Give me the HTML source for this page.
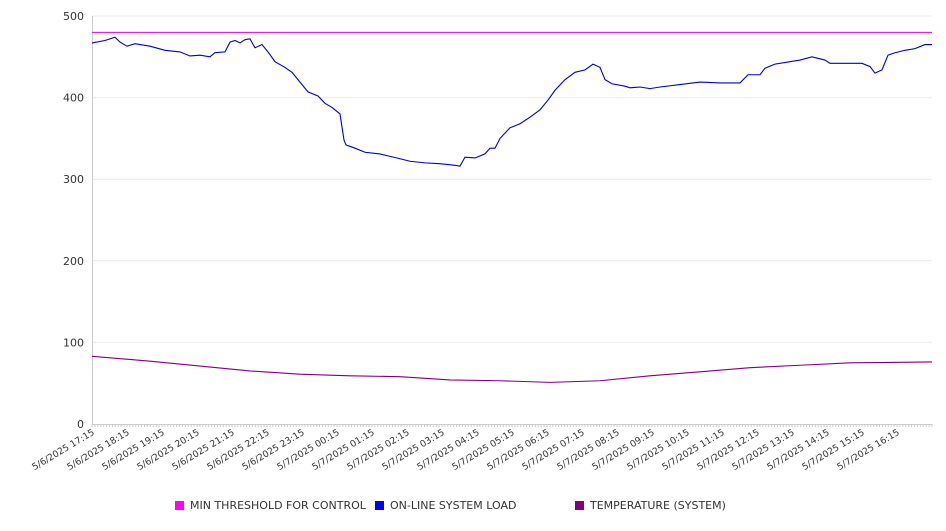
<!DOCTYPE html>
<html><head><meta charset="utf-8"><style>
body{margin:0;background:#fff;font-family:"Liberation Sans","DejaVu Sans",sans-serif}
svg text{font-family:"DejaVu Sans","Liberation Sans",sans-serif;font-size:11px;fill:#333}
svg text.xl{font-size:9.2px}
</style></head><body>
<svg id="chart" width="946" height="526" viewBox="0 0 946 526">
<g id="grid"></g>
<g id="yaxis"></g>
<g id="xaxis"></g>
<g id="series"></g>
<g id="legend"></g>
</svg>
<script>
const yTicks=[0,100,200,300,400,500];
const xTickLabels=["5/6/2025 17:15","5/6/2025 18:15","5/6/2025 19:15","5/6/2025 20:15","5/6/2025 21:15","5/6/2025 22:15","5/6/2025 23:15","5/7/2025 00:15","5/7/2025 01:15","5/7/2025 02:15","5/7/2025 03:15","5/7/2025 04:15","5/7/2025 05:15","5/7/2025 06:15","5/7/2025 07:15","5/7/2025 08:15","5/7/2025 09:15","5/7/2025 10:15","5/7/2025 11:15","5/7/2025 12:15","5/7/2025 13:15","5/7/2025 14:15","5/7/2025 15:15","5/7/2025 16:15"];
const thresholdValue=480;
const loadPx=[92,105,115,120,127,135,150,165,180,190,200,210,215,225,230,235,240,245,250,255,262,268,275,285,292,300,308,318,325,332,340,344,346,355,365,380,390,397,410,425,440,455,460,465,475,485,490,495,500,510,520,530,540,548,555,565,575,585,593,600,605,612,625,630,640,650,660,680,700,720,740,748,760,765,775,790,800,812,825,830,845,862,870,875,882,888,895,905,915,925,932];
const loadHours=loadPx.map(p=>(p-92)/35);
const loadValues=[467,470,474,468,463,466,463,458,456,451,452,450,455,456,468,470,467,471,472,461,465,456,444,437,431,419,407,402,393,388,380,348,342,338,333,331,328,326,322,320,319,317,316,327,326,331,338,338,350,363,368,376,385,397,409,422,431,434,441,437,422,417,414,412,413,411,413,416,419,418,418,428,428,436,441,444,446,450,446,442,442,442,438,430,434,452,455,458,460,465,465];
const tempHours=[0,1.66,3.09,4.51,5.94,7.37,8.8,10.23,11.66,13.09,14.51,15.94,17.37,18.8,20.23,21.66,24];
const tempValues=[83,77,71,65,61,59,58,54,53,51,53,59,64,69,72,75,76];
const X0=92,X1=932,Y0=424,Y1=16;
const xs=h=>X0+h*(X1-X0)/24;
const ys=v=>Y0-v*(Y0-Y1)/500;
const NS="http://www.w3.org/2000/svg";
function mk(tag,attrs,parent){const e=document.createElementNS(NS,tag);for(const k in attrs)e.setAttribute(k,attrs[k]);parent.appendChild(e);return e;}
const grid=document.getElementById('grid'),ya=document.getElementById('yaxis'),xa=document.getElementById('xaxis'),se=document.getElementById('series'),lg=document.getElementById('legend');
yTicks.forEach(t=>{
 if(t>0){const g=mk('line',{x1:X0,x2:X1,y1:ys(t),y2:ys(t),stroke:'#ebebeb'},grid);
 
 }
 const l=mk('text',{x:84,y:ys(t)+4,'text-anchor':'end'},ya);l.textContent=t;
 
 
});
const ax=mk('line',{x1:X0+0.5,x2:X0+0.5,y1:Y1,y2:Y0,stroke:'#ccc'},ya);


const bx=mk('line',{x1:X0,x2:X1,y1:Y0+0.5,y2:Y0+0.5,stroke:'#ccc'},xa);


for(let i=0;i<=288;i++){const x=xs(i/12);const t=mk('line',{x1:x,x2:x,y1:Y0,y2:Y0+3,stroke:'#ccc'},xa);
 
 }
xTickLabels.forEach((s,i)=>{const x=xs(i)+3,y=Y0+10;
 const t=mk('text',{class:'xl',x:x,y:y,'text-anchor':'end',transform:`rotate(-31 ${x} ${y})`},xa);t.textContent=s;
 
 });
const th=mk('line',{x1:X0,x2:X1,y1:ys(thresholdValue),y2:ys(thresholdValue),stroke:'#e000e0','stroke-width':1},se);


const lp=mk('polyline',{points:loadHours.map((h,i)=>xs(h)+','+ys(loadValues[i])).join(' '),fill:'none',stroke:'#0000cc','stroke-width':1.1},se);


const tp=mk('polyline',{points:tempHours.map((h,i)=>xs(h)+','+ys(tempValues[i])).join(' '),fill:'none',stroke:'#800080','stroke-width':1.1},se);


const leg=[["MIN THRESHOLD FOR CONTROL","#ff00ff",175],["ON-LINE SYSTEM LOAD","#0000ff",375],["TEMPERATURE (SYSTEM)","#800080",575]];
leg.forEach(([n,c,x])=>{
 const r=mk('rect',{x:x,y:501,width:9,height:9,fill:c},lg);
 
 
 const t=mk('text',{x:x+15,y:509},lg);t.textContent=n;
 
 
});
</script>
</body></html>
